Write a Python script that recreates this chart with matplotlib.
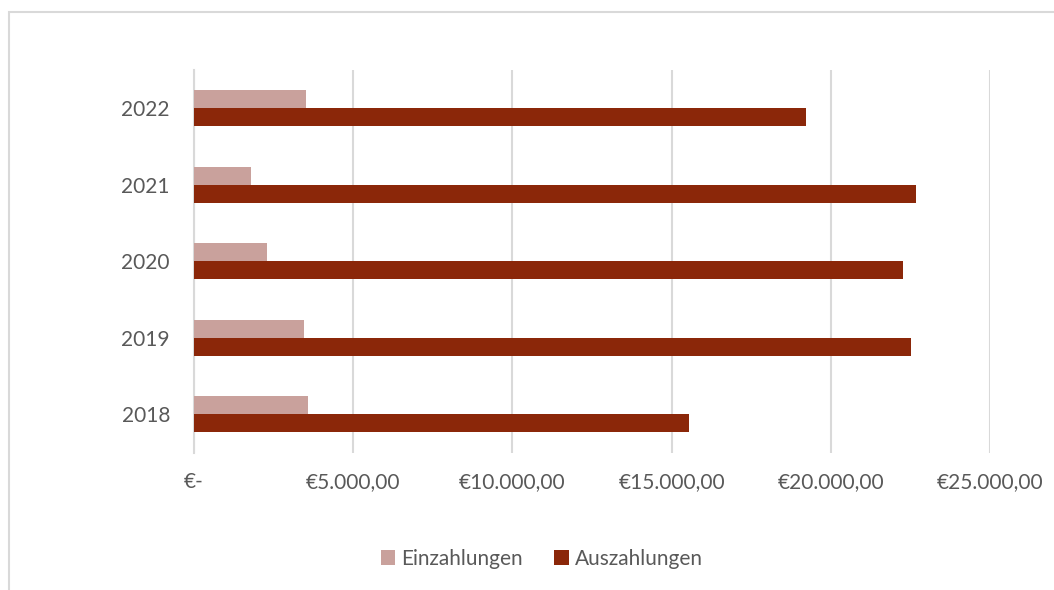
import matplotlib
matplotlib.use("Agg")
import matplotlib.pyplot as plt
from matplotlib.ticker import FuncFormatter, MultipleLocator
from matplotlib.patches import Rectangle
import numpy as np

years = ["2018", "2019", "2020", "2021", "2022"]
einzahlungen = [3594, 3478, 2297, 1805, 3531]
auszahlungen = [15552, 22499, 22269, 22677, 19225]

c_ein = "#C9A19C"
c_aus = "#8B2709"
grid_c = "#D9D9D9"
txt_c = "#595959"

plt.rcParams['font.family'] = ['Lato', 'DejaVu Sans']

fig = plt.figure(figsize=(10.54, 5.90), dpi=100)
ax = fig.add_axes([193.5/1054, 1-452.7/590, (990.3-193.5)/1054, (452.7-69.7)/590])

y = np.arange(len(years))
h = 0.235
ax.barh(y + h/2, einzahlungen, height=h, color=c_ein, label="Einzahlungen", zorder=3)
ax.barh(y - h/2, auszahlungen, height=h, color=c_aus, label="Auszahlungen", zorder=3)

ax.set_xlim(0, 25000)
ax.set_ylim(-0.5, len(years) - 0.5)
ax.xaxis.set_major_locator(MultipleLocator(5000))

def fmt(v, pos):
    if abs(v) < 1e-9:
        return "€-"
    s = f"{v:,.2f}"
    s = s.replace(",", "X").replace(".", ",").replace("X", ".")
    return "€" + s

ax.xaxis.set_major_formatter(FuncFormatter(fmt))
ax.set_yticks(y)
ax.set_yticklabels(years)
ax.tick_params(axis='both', length=0, labelsize=15, colors=txt_c)
ax.tick_params(axis='x', pad=14)
ax.tick_params(axis='y', pad=17)
ax.grid(axis='x', color=grid_c, linewidth=1.5, zorder=0)
for s in ["top", "right", "bottom"]:
    ax.spines[s].set_visible(False)
ax.spines["left"].set_color(grid_c)
ax.spines["left"].set_linewidth(1.5)
ax.set_axisbelow(True)

# chart border
fig.patches.append(Rectangle((8.5/1054, -0.05), 1.2, 1.05 - 12.5/590,
                             transform=fig.transFigure, fill=False,
                             edgecolor=grid_c, linewidth=1.5))

leg = fig.legend(loc="center", bbox_to_anchor=(542/1054, 1-559/590), ncol=2,
                 frameon=False, fontsize=15, handlelength=0.7, handleheight=0.7,
                 handletextpad=0.3, columnspacing=1.5)
for t in leg.get_texts():
    t.set_color(txt_c)

fig.savefig("out.png", dpi=100)
